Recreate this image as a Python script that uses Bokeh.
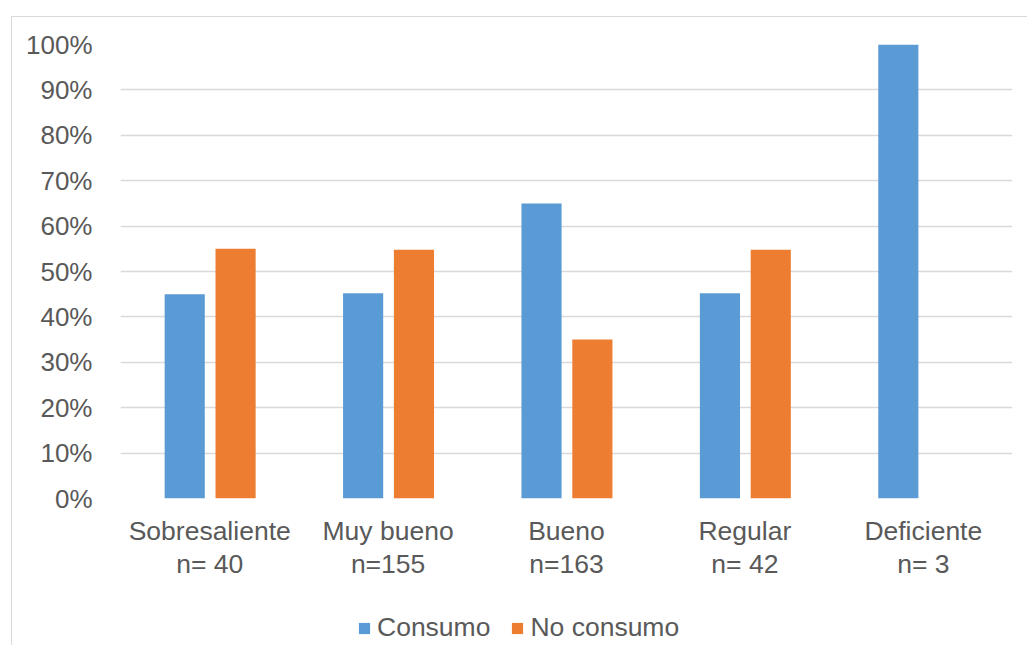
from bokeh.plotting import figure
from bokeh.layouts import column
from bokeh.models import ColumnDataSource, Range1d, FactorRange, Legend, LegendItem, PrintfTickFormatter, FixedTicker
from bokeh.transform import dodge
from bokeh.embed import file_html
from bokeh.resources import INLINE

# Rating groups, their sample sizes and the share of each answer (%)
categories = ["Sobresaliente", "Muy bueno", "Bueno", "Regular", "Deficiente"]
sample_sizes = ["n= 40", "n=155", "n=163", "n= 42", "n= 3"]
consumo = [45.0, 45.2, 65.0, 45.2, 100.0]
no_consumo = [55.0, 54.8, 35.0, 54.8, 0.0]
y_ticks = [0, 10, 20, 30, 40, 50, 60, 70, 80, 90, 100]
series_names = ["Consumo", "No consumo"]
series_fields = ["consumo", "no_consumo"]
series_colors = ["#5b9bd5", "#ed7d31"]
series_offsets = [-0.14, 0.145]

factors = [f"{c}\n{n}" for c, n in zip(categories, sample_sizes)]
source = ColumnDataSource(dict(x=factors, consumo=consumo, no_consumo=no_consumo))

FONT = "Liberation Sans"
TEXT = "#595959"
GRID = "#d9d9d9"

# Main chart: grouped bars
p = figure(
    width=1015, height=573,
    x_range=FactorRange(*factors, range_padding=0),
    y_range=Range1d(0, 100),
    output_backend="svg", toolbar_location=None,
    min_border_left=108, min_border_right=15, min_border_top=27, min_border_bottom=92,
)
p.outline_line_color = None
p.background_fill_color = "white"
p.border_fill_color = "white"

for field, color, off in zip(series_fields, series_colors, series_offsets):
    p.vbar(x=dodge("x", off, range=p.x_range), top=field, width=0.225,
           source=source, color=color, line_color=None)

p.xgrid.grid_line_color = None
p.ygrid.grid_line_color = GRID
p.ygrid.grid_line_width = 1.3
p.ygrid.ticker = FixedTicker(ticks=y_ticks)

p.yaxis.ticker = FixedTicker(ticks=y_ticks)
p.yaxis.formatter = PrintfTickFormatter(format="%d%%")
for ax in (p.xaxis[0], p.yaxis[0]):
    ax.axis_line_color = None
    ax.major_tick_line_color = None
    ax.minor_tick_line_color = None
    ax.major_label_text_font = FONT
    ax.major_label_text_color = TEXT
p.yaxis.major_label_text_font_size = "26px"
p.xaxis.major_label_text_font_size = "26.5px"
p.xaxis.major_label_text_line_height = 1.13
p.yaxis.major_label_standoff = 22
p.xaxis.major_label_standoff = 11

# Legend strip under the chart; its bar renderers sit outside the visible
# y-range so only the legend entries show
leg = figure(
    width=1015, height=60, x_range=p.x_range, y_range=Range1d(1000, 1001),
    output_backend="svg", toolbar_location=None,
    min_border_left=0, min_border_right=0, min_border_top=0, min_border_bottom=0,
)
leg.axis.visible = False
leg.grid.visible = False
leg.outline_line_color = None
leg.border_fill_color = "white"
items = []
for name, field, color, off in zip(series_names, series_fields, series_colors, series_offsets):
    r = leg.vbar(x=dodge("x", off, range=leg.x_range), top=field, width=0.225,
                 source=source, color=color, line_color=None)
    items.append(LegendItem(label=name, renderers=[r]))

legend = Legend(
    items=items, orientation="horizontal", location=(237, 7),
    label_text_font=FONT, label_text_font_size="26.5px", label_text_color=TEXT,
    label_height=26, glyph_width=14, glyph_height=14, label_standoff=6, spacing=20,
    border_line_color=None, background_fill_alpha=0, padding=0, margin=0,
)
leg.add_layout(legend)

page = column(
    p, leg, spacing=0,
    styles={"margin-left": "11px", "margin-top": "16px",
            "border-left": "1.5px solid #d9d9d9", "border-top": "1.5px solid #d9d9d9"},
)

open("out.html", "w").write(file_html(page, INLINE))
